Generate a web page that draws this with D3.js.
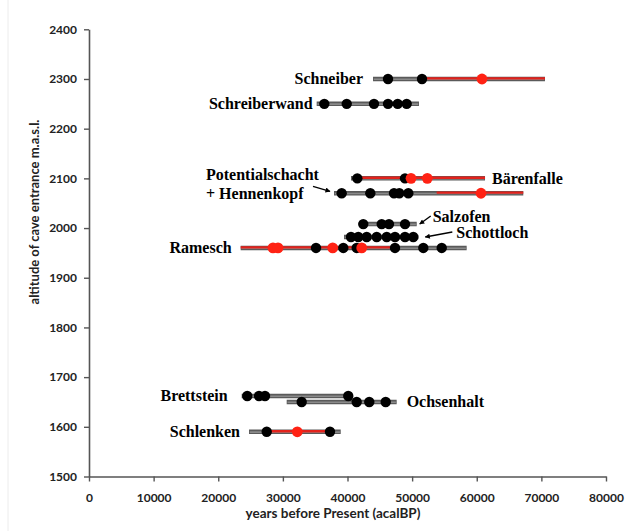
<!DOCTYPE html>
<html>
<head>
<meta charset="utf-8">
<script src="https://cdn.jsdelivr.net/npm/d3@7"></script>
<style>
  html, body { margin: 0; padding: 0; background: #fff; }
  svg { display: block; }
</style>
</head>
<body>
<svg id="chart" width="633" height="531"></svg>
<script>
// ---- data ----
const sites = ["Schneiber", "Schreiberwand", "Bärenfalle", "Potentialschacht + Hennenkopf",
  "Salzofen", "Schottloch", "Ramesch", "Brettstein", "Ochsenhalt", "Schlenken"];
const altitudes = [2300, 2250, 2100, 2070, 2008, 1982, 1960, 1662, 1650, 1590];
const rangeStart = [43950, 35230, 40540, 37910, 41930, 39460, 23470, 23630, 30590, 24760];
const rangeEnd   = [70560, 51060, 61280, 67200, 50710, 50960, 58440, 40390, 47610, 38950];
const redStart   = [51530, null, 41520, 53800, null, null, 23470, null, null, 27500];
const redEnd     = [70560, null, 61280, 67200, null, null, 46900, null, null, 37290];
const blackAges = [
  [46270, 51530],
  [36410, 39880, 44100, 46270, 47770, 49160],
  [41520, 48900],
  [39100, 43530, 47200, 48020, 49410],
  [42440, 45290, 46420, 48900],
  [40540, 41670, 42970, 44520, 46070, 47350, 48900, 50180],
  [35130, 39350, 41420, 47350, 51730, 54580],
  [24490, 26310, 27230, 40120],
  [32910, 41420, 43370, 45910],
  [27500, 37290]
];
const redAges = [
  [60810],
  [],
  [49830, 52350],
  [60660],
  [],
  [],
  [28470, 29250, 37710, 42200],
  [],
  [],
  [32230]
];
const xTicks = [0, 10000, 20000, 30000, 40000, 50000, 60000, 70000, 80000];
const yTicks = [1500, 1600, 1700, 1800, 1900, 2000, 2100, 2200, 2300, 2400];
const xTitle = "years before Present (acalBP)";
const yTitle = "altitude of cave entrance m.a.s.l.";

// ---- layout (label placement, not data) ----
const labelLayout = [
  { side: "left",  gap: 10, dy: 0 },
  { side: "left",  gap: 4,  dy: 0 },
  { side: "right", gap: 7,  dy: 0 },
  { side: "free",  x: 206, lines: [{t: "Potentialschacht", dy: -19}, {t: "+ Hennenkopf", dy: 0}],
    arrow: { x1: 313, y1: -7, x2: 330, y2: -2 } },
  { side: "right", gap: 16, dy: -7, arrow: { x1: 14, y1: -1, x2: 3, y2: 0 } },
  { side: "right", gap: 38, dy: -4, arrow: { x1: 34, y1: -1, x2: 7, y2: 0 } },
  { side: "left",  gap: 9,  dy: 0 },
  { side: "left",  gap: 14, dy: 0 },
  { side: "right", gap: 10, dy: 0 },
  { side: "left",  gap: 9,  dy: 0 }
];

const svg = d3.select("#chart");
const x = d3.scaleLinear().domain([0, 80000]).range([89, 606]);
const y = d3.scaleLinear().domain([1500, 2400]).range([476.5, 29.3]);

const axisColor = "#555";
const tickFont = "Lato, 'Open Sans', sans-serif";

svg.append("line").attr("x1", 8).attr("x2", 8).attr("y1", 0).attr("y2", 531)
  .attr("stroke", "#ececec").attr("stroke-width", 1);

const xAxis = d3.axisBottom(x).tickValues(xTicks).tickFormat(d3.format("d")).tickSize(5).tickSizeOuter(0);
const yAxis = d3.axisLeft(y).tickValues(yTicks).tickFormat(d3.format("d")).tickSize(5).tickSizeOuter(0);

const gx = svg.append("g").attr("transform", `translate(0,${y(1500)})`).call(xAxis);
const gy = svg.append("g").attr("transform", `translate(${x(0)},0)`).call(yAxis);

[gx, gy].forEach(g => {
  g.select(".domain").attr("stroke", axisColor).attr("stroke-width", 1.6);
  g.selectAll(".tick line").attr("stroke", axisColor).attr("stroke-width", 1.4);
  g.selectAll(".tick text").attr("fill", "#222").attr("font-family", tickFont)
    .attr("font-weight", "bold").attr("font-size", 12);
});
gx.selectAll(".tick text").attr("dy", "1.45em");
gy.selectAll(".tick text").attr("x", -12);

svg.append("text").attr("x", 333).attr("y", 518).attr("text-anchor", "middle")
  .attr("font-family", tickFont).attr("font-weight", "bold").attr("font-size", 13.5)
  .attr("fill", "#222").text(xTitle);
svg.append("text").attr("transform", "translate(39,212) rotate(-90)").attr("text-anchor", "middle")
  .attr("font-family", tickFont).attr("font-weight", "bold").attr("font-size", 13)
  .attr("fill", "#222").text(yTitle);

// bars
const marks = svg.append("g");
sites.forEach((s, i) => {
  const yy = y(altitudes[i]);
  marks.append("line")
    .attr("x1", x(rangeStart[i])).attr("x2", x(rangeEnd[i]))
    .attr("y1", yy).attr("y2", yy)
    .attr("stroke", "#5a5a5a").attr("stroke-width", 4.5);
  marks.append("line")
    .attr("x1", x(rangeStart[i]) + 0.8).attr("x2", x(rangeEnd[i]) - 0.8)
    .attr("y1", yy + 0.3).attr("y2", yy + 0.3)
    .attr("stroke", "#8a8a8a").attr("stroke-width", 1.6);
  if (redStart[i] != null) {
    marks.append("line")
      .attr("x1", x(redStart[i])).attr("x2", x(redEnd[i]))
      .attr("y1", yy - 0.6).attr("y2", yy - 0.6)
      .attr("stroke", "#e3221c").attr("stroke-width", 2.4);
  }
});
sites.forEach((s, i) => {
  const yy = y(altitudes[i]);
  marks.selectAll(null).data(blackAges[i]).enter().append("circle")
    .attr("cx", d => x(d)).attr("cy", yy).attr("r", 5.2).attr("fill", "#000");
});
sites.forEach((s, i) => {
  const yy = y(altitudes[i]);
  marks.selectAll(null).data(redAges[i]).enter().append("circle")
    .attr("cx", d => x(d)).attr("cy", yy).attr("r", 5.4).attr("fill", "#ff2214");
});

svg.append("defs").append("marker")
  .attr("id", "ah").attr("viewBox", "0 0 10 10").attr("refX", 9).attr("refY", 5)
  .attr("markerWidth", 7).attr("markerHeight", 5).attr("markerUnits", "userSpaceOnUse")
  .attr("orient", "auto")
  .append("path").attr("d", "M0,0 L10,5 L0,10 z").attr("fill", "#000");

const labelFont = "'Liberation Serif', 'Times New Roman', serif";
const lab = svg.append("g").attr("font-family", labelFont).attr("font-weight", "bold")
  .attr("font-size", 16).attr("fill", "#000");
sites.forEach((s, i) => {
  const L = labelLayout[i];
  const yy = y(altitudes[i]);
  if (L.side === "left") {
    lab.append("text").attr("x", x(rangeStart[i]) - L.gap).attr("y", yy + L.dy)
      .attr("dy", "0.33em").attr("text-anchor", "end").text(s);
  } else if (L.side === "right") {
    const x0 = x(rangeEnd[i]);
    lab.append("text").attr("x", x0 + L.gap).attr("y", yy + L.dy)
      .attr("dy", "0.33em").attr("text-anchor", "start").text(s);
    if (L.arrow) {
      svg.append("line").attr("x1", x0 + L.arrow.x1).attr("y1", yy + L.dy + L.arrow.y1)
        .attr("x2", x0 + L.arrow.x2).attr("y2", yy + L.arrow.y2)
        .attr("stroke", "#000").attr("stroke-width", 1.3).attr("marker-end", "url(#ah)");
    }
  } else {
    L.lines.forEach(l => {
      lab.append("text").attr("x", L.x).attr("y", yy + l.dy).attr("dy", "0.33em")
        .attr("text-anchor", "start").text(l.t);
    });
    svg.append("line").attr("x1", L.arrow.x1).attr("y1", yy + L.arrow.y1)
      .attr("x2", L.arrow.x2).attr("y2", yy + L.arrow.y2)
      .attr("stroke", "#000").attr("stroke-width", 1.3).attr("marker-end", "url(#ah)");
  }
});
</script>
</body>
</html>
